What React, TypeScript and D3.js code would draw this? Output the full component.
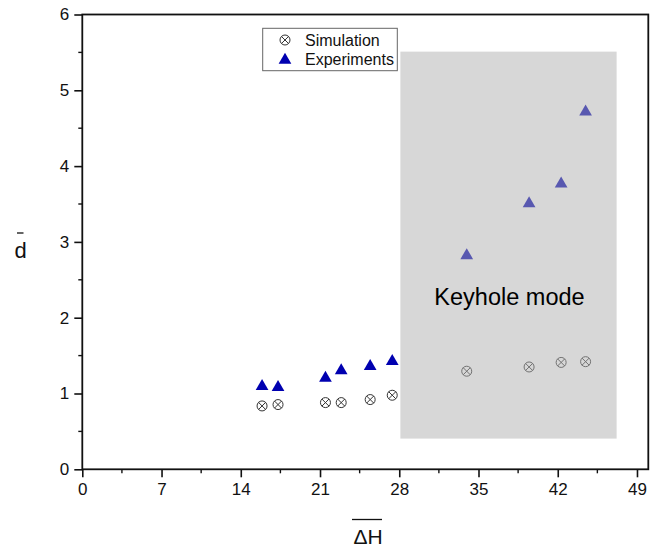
import React, { useEffect, useRef } from "react";
import * as d3 from "d3";

const simX = [15.88, 17.29, 21.48, 22.87, 25.43, 27.38, 33.96, 39.47, 42.3, 44.46];
const simY = [0.836, 0.854, 0.88, 0.88, 0.92, 0.977, 1.294, 1.35, 1.41, 1.42];
const expX = [15.88, 17.29, 21.48, 22.87, 25.43, 27.38, 33.96, 39.47, 42.3, 44.46];
const expY = [1.109, 1.096, 1.218, 1.316, 1.373, 1.439, 2.834, 3.52, 3.78, 4.73];
const xTicks = [0, 7, 14, 21, 28, 35, 42, 49];
const yTicks = [0, 1, 2, 3, 4, 5, 6];
const keyholeX = [28.1, 47.2];
const keyholeY = [0.405, 5.51];
const legendLabels = ["Simulation", "Experiments"];

const W = 661;
const H = 547;
const M = { left: 82.3, right: 648.3, top: 14.5, bottom: 469.3 };
const FONT = "'Liberation Sans', Arial, sans-serif";

export default function App() {
  const ref = useRef<SVGSVGElement | null>(null);

  useEffect(() => {
    const svg = d3.select(ref.current);
    svg.selectAll("*").remove();

    const x = d3.scaleLinear().domain([0, 50]).range([M.left, M.right]);
    const y = d3.scaleLinear().domain([0, 6]).range([M.bottom, M.top]);

    svg.append("rect").attr("width", W).attr("height", H).attr("fill", "#fff");

    // data points
    const tri = d3.symbol().type(d3.symbolTriangle).size(70);
    svg
      .append("g")
      .selectAll("path")
      .data(expX.map((v, i) => [v, expY[i]]))
      .join("path")
      .attr("d", tri as any)
      .attr("transform", (d) => `translate(${x(d[0])},${y(d[1]) + 1})`)
      .attr("fill", "#0000b0");

    const drawSim = (g: any, cx: number, cy: number) => {
      const s = g.append("g").attr("transform", `translate(${cx},${cy})`);
      s.append("circle").attr("r", 5).attr("fill", "none").attr("stroke", "#333").attr("stroke-width", 1);
      s.append("path")
        .attr("d", "M-3.6,-3.6L3.6,3.6M-3.6,3.6L3.6,-3.6")
        .attr("stroke", "#333")
        .attr("stroke-width", 1);
    };
    const simG = svg.append("g");
    simX.forEach((v, i) => drawSim(simG, x(v), y(simY[i])));

    // keyhole region (semi-transparent over markers)
    svg
      .append("rect")
      .attr("x", x(keyholeX[0]))
      .attr("y", y(keyholeY[1]))
      .attr("width", x(keyholeX[1]) - x(keyholeX[0]))
      .attr("height", y(keyholeY[0]) - y(keyholeY[1]))
      .attr("fill", "#b0b0b0")
      .attr("fill-opacity", 0.5);

    svg
      .append("text")
      .attr("x", (x(keyholeX[0]) + x(keyholeX[1])) / 2 + 1)
      .attr("y", 304.5)
      .attr("text-anchor", "middle")
      .attr("font-family", FONT)
      .attr("font-size", 23.5)
      .attr("fill", "#000")
      .text("Keyhole mode");

    // axes frame
    svg
      .append("rect")
      .attr("x", M.left)
      .attr("y", M.top)
      .attr("width", M.right - M.left)
      .attr("height", M.bottom - M.top)
      .attr("fill", "none")
      .attr("stroke", "#111")
      .attr("stroke-width", 1.8);

    // x axis
    const xAxis = d3
      .axisBottom(x)
      .tickValues(xTicks)
      .tickSize(8)
      .tickPadding(6)
      .tickFormat((d: any) => String(d));
    const gx = svg.append("g").attr("transform", `translate(0,${M.bottom})`).call(xAxis as any);
    gx.select(".domain").remove();
    gx.selectAll("line").attr("stroke", "#111").attr("stroke-width", 1.6);
    gx.selectAll("text").attr("font-family", FONT).attr("font-size", 17).attr("fill", "#111");
    const xMinor = d3.range(3.5, 50, 7);
    svg
      .append("g")
      .selectAll("line")
      .data(xMinor)
      .join("line")
      .attr("x1", (d) => x(d))
      .attr("x2", (d) => x(d))
      .attr("y1", M.bottom)
      .attr("y2", M.bottom + 4)
      .attr("stroke", "#111")
      .attr("stroke-width", 1.4);

    // y axis
    const yAxis = d3
      .axisLeft(y)
      .tickValues(yTicks)
      .tickSize(8)
      .tickPadding(5)
      .tickFormat((d: any) => String(d));
    const gy = svg.append("g").attr("transform", `translate(${M.left},0)`).call(yAxis as any);
    gy.select(".domain").remove();
    gy.selectAll("line").attr("stroke", "#111").attr("stroke-width", 1.6);
    gy.selectAll("text").attr("font-family", FONT).attr("font-size", 17).attr("fill", "#111");
    const yMinor = d3.range(0.5, 6, 1);
    svg
      .append("g")
      .selectAll("line")
      .data(yMinor)
      .join("line")
      .attr("x1", M.left - 4)
      .attr("x2", M.left)
      .attr("y1", (d) => y(d))
      .attr("y2", (d) => y(d))
      .attr("stroke", "#111")
      .attr("stroke-width", 1.4);

    // axis titles
    svg
      .append("text")
      .attr("x", 20.5)
      .attr("y", 258)
      .attr("text-anchor", "middle")
      .attr("font-family", FONT)
      .attr("font-size", 22)
      .attr("fill", "#111")
      .text("d");
    svg.append("line").attr("x1", 17).attr("x2", 23.5).attr("y1", 233).attr("y2", 233).attr("stroke", "#111").attr("stroke-width", 1.3);

    svg
      .append("text")
      .attr("x", 368)
      .attr("y", 544)
      .attr("text-anchor", "middle")
      .attr("font-family", FONT)
      .attr("font-size", 21)
      .attr("fill", "#111")
      .text("ΔH");
    svg.append("line").attr("x1", 352).attr("x2", 382).attr("y1", 519.5).attr("y2", 519.5).attr("stroke", "#111").attr("stroke-width", 1.3);

    // legend
    const lg = svg.append("g");
    lg.append("rect")
      .attr("x", 262.7)
      .attr("y", 28.3)
      .attr("width", 134.6)
      .attr("height", 42.4)
      .attr("fill", "#fff")
      .attr("stroke", "#666")
      .attr("stroke-width", 1);
    drawSim(lg, 285, 40);
    lg.append("path").attr("d", tri as any).attr("transform", `translate(285,60)`).attr("fill", "#0000b0");
    legendLabels.forEach((t, i) => {
      lg.append("text")
        .attr("x", 305)
        .attr("y", 40 + i * 19.5 + 5.5)
        .attr("font-family", FONT)
        .attr("font-size", 16)
        .attr("fill", "#111")
        .text(t);
    });
  }, []);

  return (
    <svg
      ref={ref}
      width={W}
      height={H}
      style={{ position: "absolute", left: 0, top: 0, display: "block" }}
    />
  );
}
